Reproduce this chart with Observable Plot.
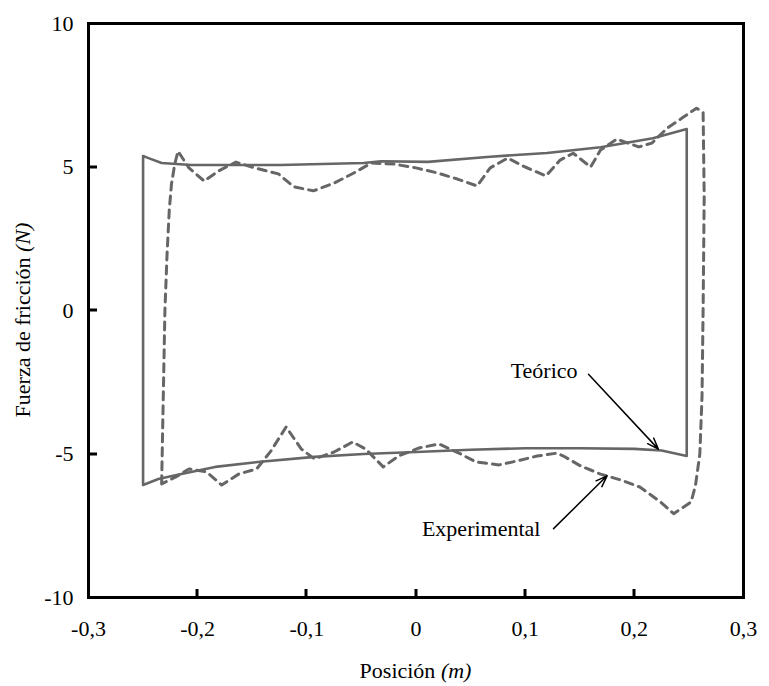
<!DOCTYPE html>
<html><head><meta charset="utf-8">
<script src="https://cdn.jsdelivr.net/npm/d3@7"></script>
<script src="https://cdn.jsdelivr.net/npm/@observablehq/plot@0.6"></script>
<style>body{margin:0;background:#fff} #chart{position:relative;width:769px;height:686px} #chart svg{display:block} #overlay{position:absolute;left:0;top:0;pointer-events:none}</style>
</head><body><div id="chart"></div>
<script>
// Theoretical loop (solid)
const teoX = [-0.25, -0.245, -0.233, -0.206, -0.124, -0.048, -0.032, 0.011, 0.065, 0.12, 0.169, 0.217, 0.248,
              0.248, 0.225, 0.2, 0.15, 0.1, 0.05, 0, -0.048, -0.093, -0.145, -0.184, -0.215, -0.236, -0.25, -0.25];
const teoY = [5.38, 5.31, 5.14, 5.07, 5.07, 5.14, 5.2, 5.18, 5.35, 5.49, 5.69, 6.0, 6.32,
              -5.07, -4.88, -4.82, -4.8, -4.8, -4.85, -4.93, -5.0, -5.1, -5.28, -5.45, -5.7, -5.87, -6.08, 5.38];
// Experimental loop (dashed)
const expX = [-0.233, -0.232, -0.231, -0.23, -0.228, -0.226, -0.224, -0.221, -0.218, -0.212, -0.208, -0.194, -0.181,
              -0.165, -0.148, -0.126, -0.112, -0.094, -0.075, -0.057, -0.041, -0.02, 0, 0.02, 0.038, 0.056, 0.068,
              0.084, 0.1, 0.119, 0.132, 0.144, 0.16, 0.169, 0.184, 0.204, 0.216, 0.23, 0.245, 0.257, 0.263,
              0.264, 0.263, 0.262, 0.26, 0.256, 0.252, 0.236, 0.224, 0.205, 0.187, 0.169, 0.151, 0.135, 0.129,
              0.111, 0.093, 0.076, 0.055, 0.041, 0.021, 0.003, -0.016, -0.03, -0.046, -0.058, -0.075, -0.093,
              -0.105, -0.119, -0.133, -0.146, -0.162, -0.178, -0.192, -0.208, -0.22, -0.233];
const expY = [-6.04, -4, -2, 0, 2, 3.5, 4.4, 5.1, 5.55, 5.2, 4.97, 4.51, 4.86,
              5.17, 4.97, 4.76, 4.31, 4.17, 4.44, 4.79, 5.14, 5.1, 4.97, 4.79, 4.58, 4.34, 4.97,
              5.31, 5.0, 4.69, 5.24, 5.48, 5.0, 5.59, 5.97, 5.7, 5.83, 6.35, 6.74, 7.05, 6.9,
              4, 0, -3, -5, -6.1, -6.67, -7.08, -6.67, -6.15, -5.9, -5.7, -5.42, -5.07, -4.97,
              -5.07, -5.24, -5.38, -5.28, -5.0, -4.65, -4.79, -5.07, -5.45, -4.83, -4.58, -4.93, -5.17,
              -4.83, -4.06, -4.9, -5.52, -5.69, -6.08, -5.62, -5.52, -5.8, -6.04];

const xTicks = [-0.3, -0.2, -0.1, 0, 0.1, 0.2, 0.3];
const yTicks = [-10, -5, 0, 5, 10];
const xInnerTicks = [-0.2, -0.1, 0, 0.1, 0.2];
const yInnerTicks = [-5, 0, 5];

// Annotations
const noteText = ["Teórico", "Experimental"];
const noteX = [0.148, 0.114];
const noteY = [-2.12, -7.6];
const arrowX1 = [0.158, 0.126];
const arrowY1 = [-2.22, -7.6];
const arrowX2 = [0.222, 0.175];
const arrowY2 = [-4.83, -5.76];

const teo = teoX.map((x, i) => ({x, y: teoY[i]}));
const exp = expX.map((x, i) => ({x, y: expY[i]}));
const notes = noteText.map((t, i) => ({t, x: noteX[i], y: noteY[i]}));
const arrows = arrowX1.map((x1, i) => ({x1, y1: arrowY1[i], x2: arrowX2[i], y2: arrowY2[i]}));

const fmt = d => String(d).replace(".", ",");
const font = "'Liberation Serif', 'Times New Roman', serif";

const W = 769, H = 686, mL = 88, mR = 26, mT = 23, mB = 89;
const xDom = [-0.3, 0.3], yDom = [-10, 10];

const chart = Plot.plot({
  width: W, height: H,
  marginLeft: mL, marginRight: mR, marginTop: mT, marginBottom: mB,
  style: {fontFamily: font, fontSize: "22px", color: "#000", background: "#fff"},
  x: {type: "linear", domain: xDom},
  y: {type: "linear", domain: yDom},
  marks: [
    Plot.line(teo, {x: "x", y: "y", stroke: "#666", strokeWidth: 2.6}),
    Plot.line(exp, {x: "x", y: "y", stroke: "#666", strokeWidth: 3, strokeDasharray: "8,6"}),
    Plot.arrow(arrows, {x1: "x1", y1: "y1", x2: "x2", y2: "y2", stroke: "#000", strokeWidth: 1.5, headLength: 12, headAngle: 40}),
    Plot.text(notes, {x: "x", y: "y", text: "t", textAnchor: "end", fill: "#000", fontSize: 22}),
    Plot.axisX(xTicks, {tickSize: 0, tickPadding: 23, tickFormat: fmt, label: null}),
    Plot.axisY(yTicks, {tickSize: 0, tickPadding: 15, tickFormat: d => String(d), label: null}),
    Plot.frame({stroke: "#000", strokeWidth: 3})
  ]
});
const host = document.getElementById("chart");
host.appendChild(chart);

const svg = d3.select(chart);
const sx = chart.scale("x"), sy = chart.scale("y");
const xl = svg.append("text").attr("x", sx.apply(0)).attr("y", 678).attr("text-anchor", "middle")
  .attr("font-family", font).attr("font-size", 22).attr("fill", "#000");
xl.append("tspan").text("Posición ");
xl.append("tspan").attr("font-style", "italic").text("(m)");
const yl = svg.append("text").attr("transform", "translate(30,320) rotate(-90)").attr("text-anchor", "middle")
  .attr("font-family", font).attr("font-size", 22).attr("fill", "#000");
yl.append("tspan").text("Fuerza de fricción ");
yl.append("tspan").attr("font-style", "italic").text("(N)");

// inward tick marks on an overlay SVG, positioned with Plot's own scales
const overlay = d3.select(host).append("svg").attr("id", "overlay")
  .attr("width", W).attr("height", H).attr("viewBox", `0 0 ${W} ${H}`);
const g = overlay.append("g").attr("fill", "#000");
xInnerTicks.forEach(v => {
  const px = Math.round(sx.apply(v)), py = Math.round(sy.apply(yDom[0]));
  g.append("rect").attr("x", px - 1.5).attr("y", py - 8).attr("width", 3).attr("height", 8);
});
yInnerTicks.forEach(v => {
  const py = Math.round(sy.apply(v)), px = Math.round(sx.apply(xDom[0]));
  g.append("rect").attr("x", px).attr("y", py - 1.5).attr("width", 9).attr("height", 3);
});
</script>
</body></html>
